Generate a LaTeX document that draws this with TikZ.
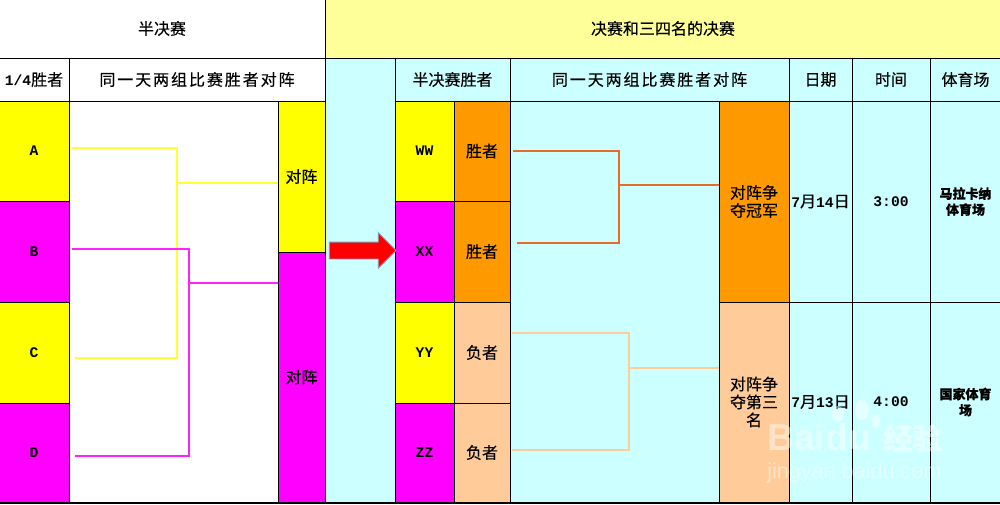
\documentclass[tikz,border=0pt]{standalone}
\usepackage{fontspec}
\setmainfont{Noto Sans CJK SC}[FakeBold=0.35]
\newfontfamily\wideface{Noto Sans CJK SC}[FakeBold=0.35,LetterSpace=12]
\newfontfamily\latnfont{Liberation Mono}
\newfontfamily\markfont{Liberation Sans}
\newcommand{\ltn}[1]{{\latnfont\bfseries\fontsize{11pt}{12pt}\selectfont #1}}
\usetikzlibrary{shapes.arrows, positioning}
\definecolor{paleyellow}{HTML}{FFFF99}
\definecolor{palecyan}{HTML}{CCFFFF}
\definecolor{amber}{HTML}{FF9900}
\definecolor{peach}{HTML}{FFCC99}
\definecolor{rust}{HTML}{E8692A}
\definecolor{pureyellow}{HTML}{FFFF00}
\definecolor{puremagenta}{HTML}{FF00FF}
\definecolor{lineyellow}{HTML}{FFFF33}
\definecolor{linemagenta}{HTML}{FF22FF}
\definecolor{arrowedge}{HTML}{7F9DB9}
\tikzset{
    x=0.75pt, y=-0.75pt,
    cellbox/.style={rectangle, draw=black, line width=0.75pt, inner sep=0pt, outer sep=0pt, align=center, font=\fontsize{12pt}{13.5pt}\selectfont},
    sz/.style 2 args={minimum width=#1*0.75pt, minimum height=#2*0.75pt},
    whitecell/.style={cellbox, fill=white},
    cyancell/.style={cellbox, fill=palecyan},
    yellowcell/.style={cellbox, fill=pureyellow},
    magentacell/.style={cellbox, fill=puremagenta},
    ambercell/.style={cellbox, fill=amber},
    peachcell/.style={cellbox, fill=peach},
    smalltext/.style={font=\bfseries\fontsize{9.75pt}{12pt}\selectfont},
    widetext/.style={font=\wideface\fontsize{12pt}{14pt}\selectfont},
    bracket/.style={line width=1.4pt},
    markpart/.style={white, opacity=0.45}
}
\begin{document}
\begin{tikzpicture}
    \useasboundingbox (0,0) rectangle (1000,504);
    % top two rows
    \node (semi) [whitecell, sz={326}{59}, anchor=north west] at (-1,-1) {半决赛};
    \node (final) [cellbox, fill=paleyellow, sz={676}{59}, below right=0pt and 0pt of semi.north east] {决赛和三四名的决赛};
    \node (quarter) [whitecell, sz={70}{43}, below right=0pt and 0pt of semi.south west] {\ltn{1/4}胜者};
    \node (sameleft) [whitecell, widetext, sz={256}{43}, right=0pt of quarter] {同一天两组比赛胜者对阵};
    \node (gapcol) [cyancell, sz={70}{444}, below right=0pt and 0pt of sameleft.north east] {};
    \node (semiwin) [cyancell, sz={115}{43}, below right=0pt and 0pt of gapcol.north east] {半决赛胜者};
    \node (sameright) [cyancell, widetext, sz={279}{43}, right=0pt of semiwin] {同一天两组比赛胜者对阵};
    \node (datehead) [cyancell, sz={63}{43}, right=0pt of sameright] {日期};
    \node (timehead) [cyancell, sz={78}{43}, right=0pt of datehead] {时间};
    \node (venuehead) [cyancell, sz={71}{43}, right=0pt of timehead] {体育场};

    % left half
    \node (teamA) [yellowcell, sz={70}{100}, below right=0pt and 0pt of quarter.south west] {\ltn{A}};
    \node (teamB) [magentacell, sz={70}{101}, below=0pt of teamA] {\ltn{B}};
    \node (teamC) [yellowcell, sz={70}{101}, below=0pt of teamB] {\ltn{C}};
    \node (teamD) [magentacell, sz={70}{99}, below=0pt of teamC] {\ltn{D}};
    \node (leftarea) [whitecell, sz={209}{401}, below right=0pt and 0pt of teamA.north east] {};
    \node (pairup) [yellowcell, sz={47}{151}, below right=0pt and 0pt of leftarea.north east] {对阵};
    \node (pairdown) [magentacell, sz={47}{250}, below=0pt of pairup] {对阵};

    % right half
    \node (teamW) [yellowcell, sz={59}{100}, below right=0pt and 0pt of semiwin.south west] {\ltn{WW}};
    \node (teamX) [magentacell, sz={59}{101}, below=0pt of teamW] {\ltn{XX}};
    \node (teamY) [yellowcell, sz={59}{101}, below=0pt of teamX] {\ltn{YY}};
    \node (teamZ) [magentacell, sz={59}{99}, below=0pt of teamY] {\ltn{ZZ}};
    \node (winW) [ambercell, sz={56}{100}, right=0pt of teamW] {胜者};
    \node (winX) [ambercell, sz={56}{101}, right=0pt of teamX] {胜者};
    \node (loseY) [peachcell, sz={56}{101}, right=0pt of teamY] {负者};
    \node (loseZ) [peachcell, sz={56}{99}, right=0pt of teamZ] {负者};
    \node (rightarea) [cyancell, sz={209}{401}, below right=0pt and 0pt of winW.north east] {};
    \node (champ) [ambercell, sz={70}{201}, below right=0pt and 0pt of rightarea.north east] {对阵争\\夺冠军};
    \node (third) [peachcell, sz={70}{200}, below=0pt of champ] {对阵争\\夺第三\\名};
    \node (dateup) [cyancell, sz={63}{201}, right=0pt of champ] {\ltn{7}月\ltn{14}日};
    \node (datedown) [cyancell, sz={63}{200}, right=0pt of third] {\ltn{7}月\ltn{13}日};
    \node (timeup) [cyancell, sz={78}{201}, right=0pt of dateup] {\ltn{3:00}};
    \node (timedown) [cyancell, sz={78}{200}, right=0pt of datedown] {\ltn{4:00}};
    \node (venueup) [cyancell, smalltext, sz={71}{201}, right=0pt of timeup] {马拉卡纳\\体育场};
    \node (venuedown) [cyancell, smalltext, sz={71}{200}, right=0pt of timedown] {国家体育\\场};
    \node (baseline) [rectangle, fill=black, inner sep=0pt, outer sep=0pt, minimum width=750pt, minimum height=1.5pt, anchor=north west] at (0,502) {};

    % big arrow
    \node (bigarrow) [single arrow, fill=red, draw=arrowedge, line width=0.6pt, inner sep=0pt, minimum height=50pt, minimum width=26.25pt, single arrow head extend=7pt] at (358.5,250.5) {\rule{0pt}{12pt}};

    % brackets
    \coordinate (startA) at (72,148);
    \coordinate (startC) at (75,358);
    \coordinate (joinAC) at (177,183);
    \coordinate (startB) at (72,249);
    \coordinate (startD) at (75,456);
    \coordinate (joinBD) at (189,283);
    \coordinate (startW) at (513,151);
    \coordinate (startX) at (517,243);
    \coordinate (joinWX) at (619,185);
    \coordinate (startY) at (512,333);
    \coordinate (startZ) at (512,450);
    \coordinate (joinYZ) at (629,368);
    \draw [bracket, lineyellow] (startA) -| (joinAC) |- (startC);
    \draw [bracket, lineyellow] (joinAC) -- (pairup.west |- joinAC);
    \draw [bracket, linemagenta] (startB) -| (joinBD) |- (startD);
    \draw [bracket, linemagenta] (joinBD) -- (pairdown.west |- joinBD);
    \draw [bracket, rust] (startW) -| (joinWX) |- (startX);
    \draw [bracket, rust] (joinWX) -- (champ.west |- joinWX);
    \draw [bracket, peach] (startY) -| (joinYZ) |- (startZ);
    \draw [bracket, peach] (joinYZ) -- (third.west |- joinYZ);

    % site mark
    \fill [markpart] (838,414) ellipse (6 and 8);
    \fill [markpart] (862,410) ellipse (7 and 10);
    \fill [markpart] (876,421) ellipse (4 and 7);
    \node (markname) [markpart, font=\markfont\bfseries\fontsize{28pt}{30pt}\selectfont, inner sep=0pt, anchor=west] at (767,437) {Baidu};
    \node (markcn) [markpart, font=\bfseries\fontsize{22pt}{24pt}\selectfont, inner sep=0pt, anchor=west] at (883,438) {经验};
    \node (markurl) [markpart, font=\markfont\fontsize{16.2pt}{18pt}\selectfont, inner sep=0pt, anchor=west] at (767,473) {jingyan.baidu.com};
\end{tikzpicture}
\end{document}
